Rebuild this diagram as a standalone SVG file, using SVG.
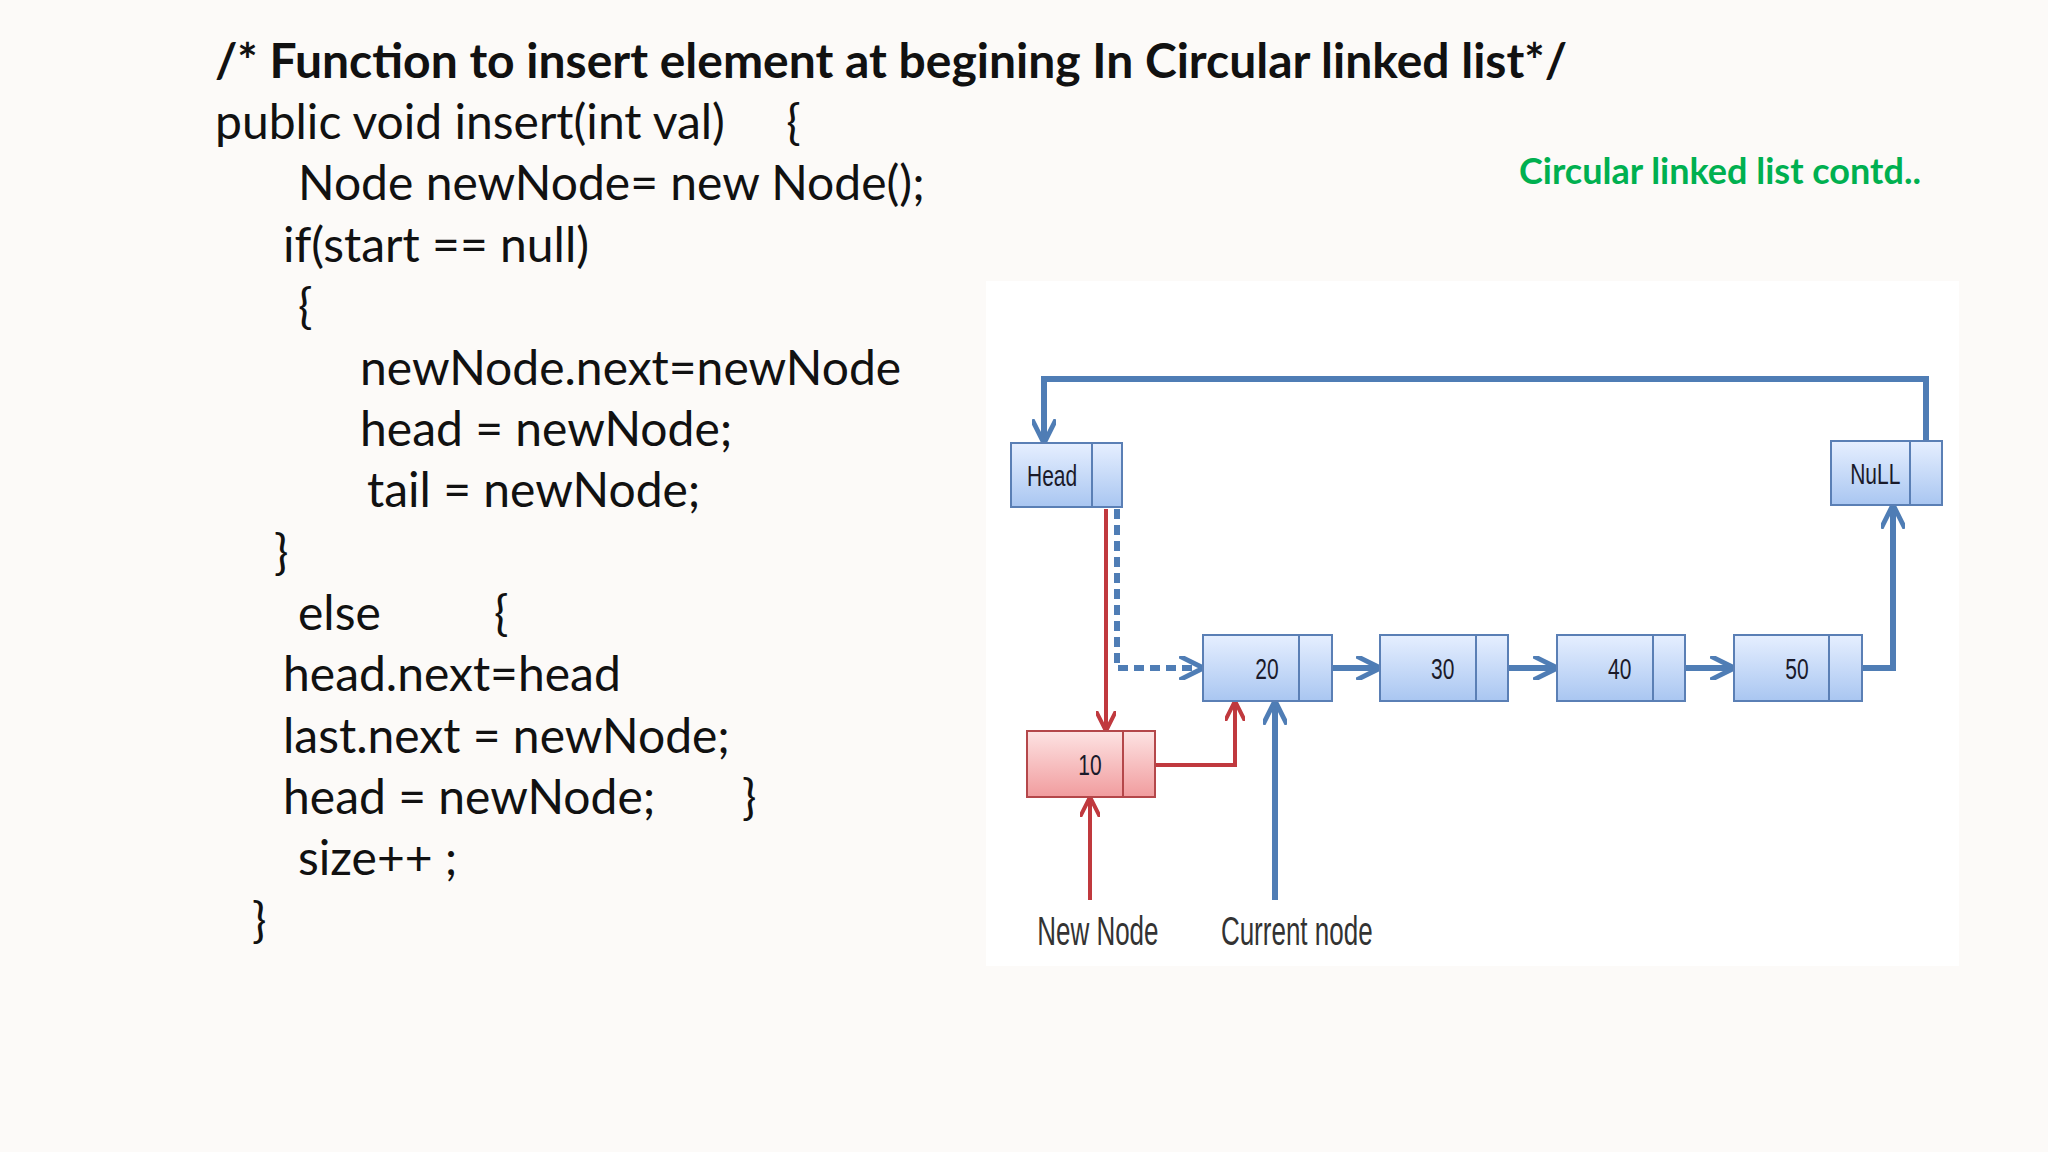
<svg xmlns="http://www.w3.org/2000/svg" width="2048" height="1152" viewBox="0 0 2048 1152">
<style>
.code{font-family:Lato,"Open Sans",sans-serif;font-size:48px;fill:#111}
.nb{fill:url(#gb);stroke:#5a7fb5;stroke-width:2}
.nr{fill:url(#gr);stroke:#b4474a;stroke-width:2}
.nt{font-family:"Liberation Sans",sans-serif;font-size:30px;fill:#1a1a2a;text-anchor:middle}
.lb{font-family:"Liberation Sans",sans-serif;font-size:40px;fill:#333;text-anchor:middle}
.b{stroke:#4f7db5;fill:none;stroke-width:6}
.r{stroke:#c0393e;fill:none;stroke-width:4}
</style>
<defs>
<linearGradient id="gb" x1="0" y1="0" x2="0" y2="1"><stop offset="0" stop-color="#e6efff"/><stop offset="1" stop-color="#a9c6f1"/></linearGradient>
<linearGradient id="gr" x1="0" y1="0" x2="0" y2="1"><stop offset="0" stop-color="#fde3e3"/><stop offset="1" stop-color="#f19c9e"/></linearGradient>
<marker id="ab" viewBox="0 0 10 10" refX="9" refY="5" markerWidth="4" markerHeight="4" orient="auto"><path d="M0,0 L10,5 L0,10" fill="none" stroke="#4f7db5" stroke-width="2"/></marker>
<marker id="ar" viewBox="0 0 10 10" refX="9" refY="5" markerWidth="5" markerHeight="5" orient="auto"><path d="M0,0 L10,5 L0,10" fill="none" stroke="#c0393e" stroke-width="2"/></marker>
</defs>
<rect width="2048" height="1152" fill="#fcfaf8"/>
<rect x="986" y="281" width="973" height="685" fill="#ffffff"/>
<g id="code">
<text class="code" x="215" y="78" font-weight="bold">/* Function to insert element at begining In Circular linked list*/</text>
<text class="code" x="215" y="139" xml:space="preserve">public void insert(int val)     {</text>
<text class="code" x="298" y="200">Node newNode= new Node();</text>
<text class="code" x="283" y="262">if(start == null)</text>
<text class="code" x="298" y="323">{</text>
<text class="code" x="360" y="385">newNode.next=newNode</text>
<text class="code" x="360" y="446">head = newNode;</text>
<text class="code" x="367" y="507">tail = newNode;</text>
<text class="code" x="274" y="569">}</text>
<text class="code" x="298" y="630">else</text>
<text class="code" x="494" y="630">{</text>
<text class="code" x="283" y="691">head.next=head</text>
<text class="code" x="283" y="753">last.next = newNode;</text>
<text class="code" x="283" y="814">head = newNode;</text>
<text class="code" x="742" y="814">}</text>
<text class="code" x="298" y="875">size++ ;</text>
<text class="code" x="252" y="937">}</text>
</g>
<text id="subtitle" x="1519" y="184" font-family="Lato,'Open Sans',sans-serif" font-weight="bold" font-size="36" fill="#00b050">Circular linked list contd..</text>
<g id="connectors">
<path class="b" d="M1926,476 V379 H1044 V441" marker-end="url(#ab)"/>
<path class="r" d="M1106,509 V729" marker-end="url(#ar)"/>
<path class="b" d="M1117,509 V668 H1201" stroke-dasharray="10,6" stroke-width="5" marker-end="url(#ab)"/>
<path class="r" d="M1143,765 H1235 V703" stroke-width="6" marker-end="url(#ar)"/>
<path class="b" d="M1317,668 H1378" marker-end="url(#ab)"/>
<path class="b" d="M1494,668 H1555" marker-end="url(#ab)"/>
<path class="b" d="M1671,668 H1732" marker-end="url(#ab)"/>
<path class="b" d="M1847,668 H1893 V507" stroke-width="5" marker-end="url(#ab)"/>
<path class="b" d="M1275,900 V703" stroke-width="4" marker-end="url(#ab)"/>
<path class="r" d="M1090,900 V799" marker-end="url(#ar)"/>
</g>
<g id="head"><rect class="nb" x="1011" y="443" width="111" height="64"/><line x1="1092" y1="443" x2="1092" y2="507" stroke="#5a7fb5" stroke-width="2"/><text class="nt" transform="scale(0.7,1)" x="1503" y="486">Head</text></g>
<g id="null"><rect class="nb" x="1831" y="441" width="111" height="64"/><line x1="1910" y1="441" x2="1910" y2="505" stroke="#5a7fb5" stroke-width="2"/><text class="nt" transform="scale(0.7,1)" x="2679" y="484">NuLL</text></g>
<g id="n20"><rect class="nb" x="1203" y="635" width="129" height="66"/><line x1="1299" y1="635" x2="1299" y2="701" stroke="#5a7fb5" stroke-width="2"/><text class="nt" transform="scale(0.7,1)" x="1810" y="679">20</text></g>
<g id="n30"><rect class="nb" x="1380" y="635" width="128" height="66"/><line x1="1476" y1="635" x2="1476" y2="701" stroke="#5a7fb5" stroke-width="2"/><text class="nt" transform="scale(0.7,1)" x="2061" y="679">30</text></g>
<g id="n40"><rect class="nb" x="1557" y="635" width="128" height="66"/><line x1="1653" y1="635" x2="1653" y2="701" stroke="#5a7fb5" stroke-width="2"/><text class="nt" transform="scale(0.7,1)" x="2314" y="679">40</text></g>
<g id="n50"><rect class="nb" x="1734" y="635" width="128" height="66"/><line x1="1829" y1="635" x2="1829" y2="701" stroke="#5a7fb5" stroke-width="2"/><text class="nt" transform="scale(0.7,1)" x="2567" y="679">50</text></g>
<g id="n10"><rect class="nr" x="1027" y="731" width="128" height="66"/><line x1="1123" y1="731" x2="1123" y2="797" stroke="#b4474a" stroke-width="2"/><text class="nt" transform="scale(0.7,1)" x="1557" y="775">10</text></g>
<g id="labels"><text class="lb" transform="scale(0.65,1)" x="1689" y="945">New Node</text><text class="lb" transform="scale(0.65,1)" x="1995" y="945">Current node</text></g>
</svg>
